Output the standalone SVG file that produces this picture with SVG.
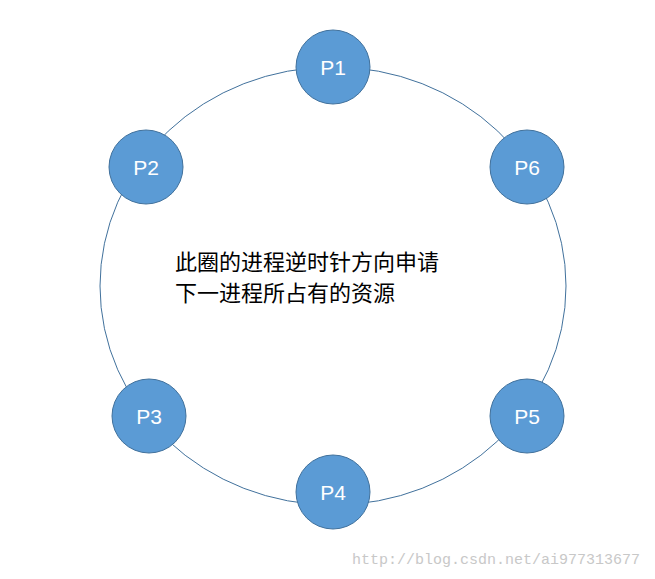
<svg xmlns="http://www.w3.org/2000/svg" width="655" height="579" viewBox="0 0 655 579">
<style>
.n{fill:#5B9BD5;stroke:#41719C;stroke-width:1}
.t{font-family:"Liberation Sans","Noto Sans",sans-serif;font-size:21px;fill:#fff;text-anchor:middle}
.c{font-family:"Noto Sans CJK SC",sans-serif;font-size:22px;fill:#000}
</style>
<rect width="655" height="579" fill="#fff"/>
<g id="connectors"><ellipse cx="333" cy="286" rx="233" ry="219" fill="none" stroke="#41719C" stroke-width="1"/></g>
<g id="P1"><circle class="n" cx="333" cy="67" r="37"/><text class="t" x="333" y="75">P1</text></g>
<g id="P6"><circle class="n" cx="527" cy="167" r="37"/><text class="t" x="527" y="175">P6</text></g>
<g id="P2"><circle class="n" cx="146" cy="167" r="37"/><text class="t" x="146" y="175">P2</text></g>
<g id="P3"><circle class="n" cx="149" cy="416" r="37"/><text class="t" x="149" y="424">P3</text></g>
<g id="P5"><circle class="n" cx="527" cy="416" r="37"/><text class="t" x="527" y="424">P5</text></g>
<g id="P4"><circle class="n" cx="333" cy="492" r="37"/><text class="t" x="333" y="500">P4</text></g>
<g id="label"><text class="c" x="175" y="270">此圈的进程逆时针方向申请</text><text class="c" x="175" y="301">下一进程所占有的资源</text></g>
<text x="640" y="564" text-anchor="end" font-family="Liberation Mono,monospace" font-size="15" fill="#c8c8c8">http://blog.csdn.net/ai977313677</text>
</svg>
